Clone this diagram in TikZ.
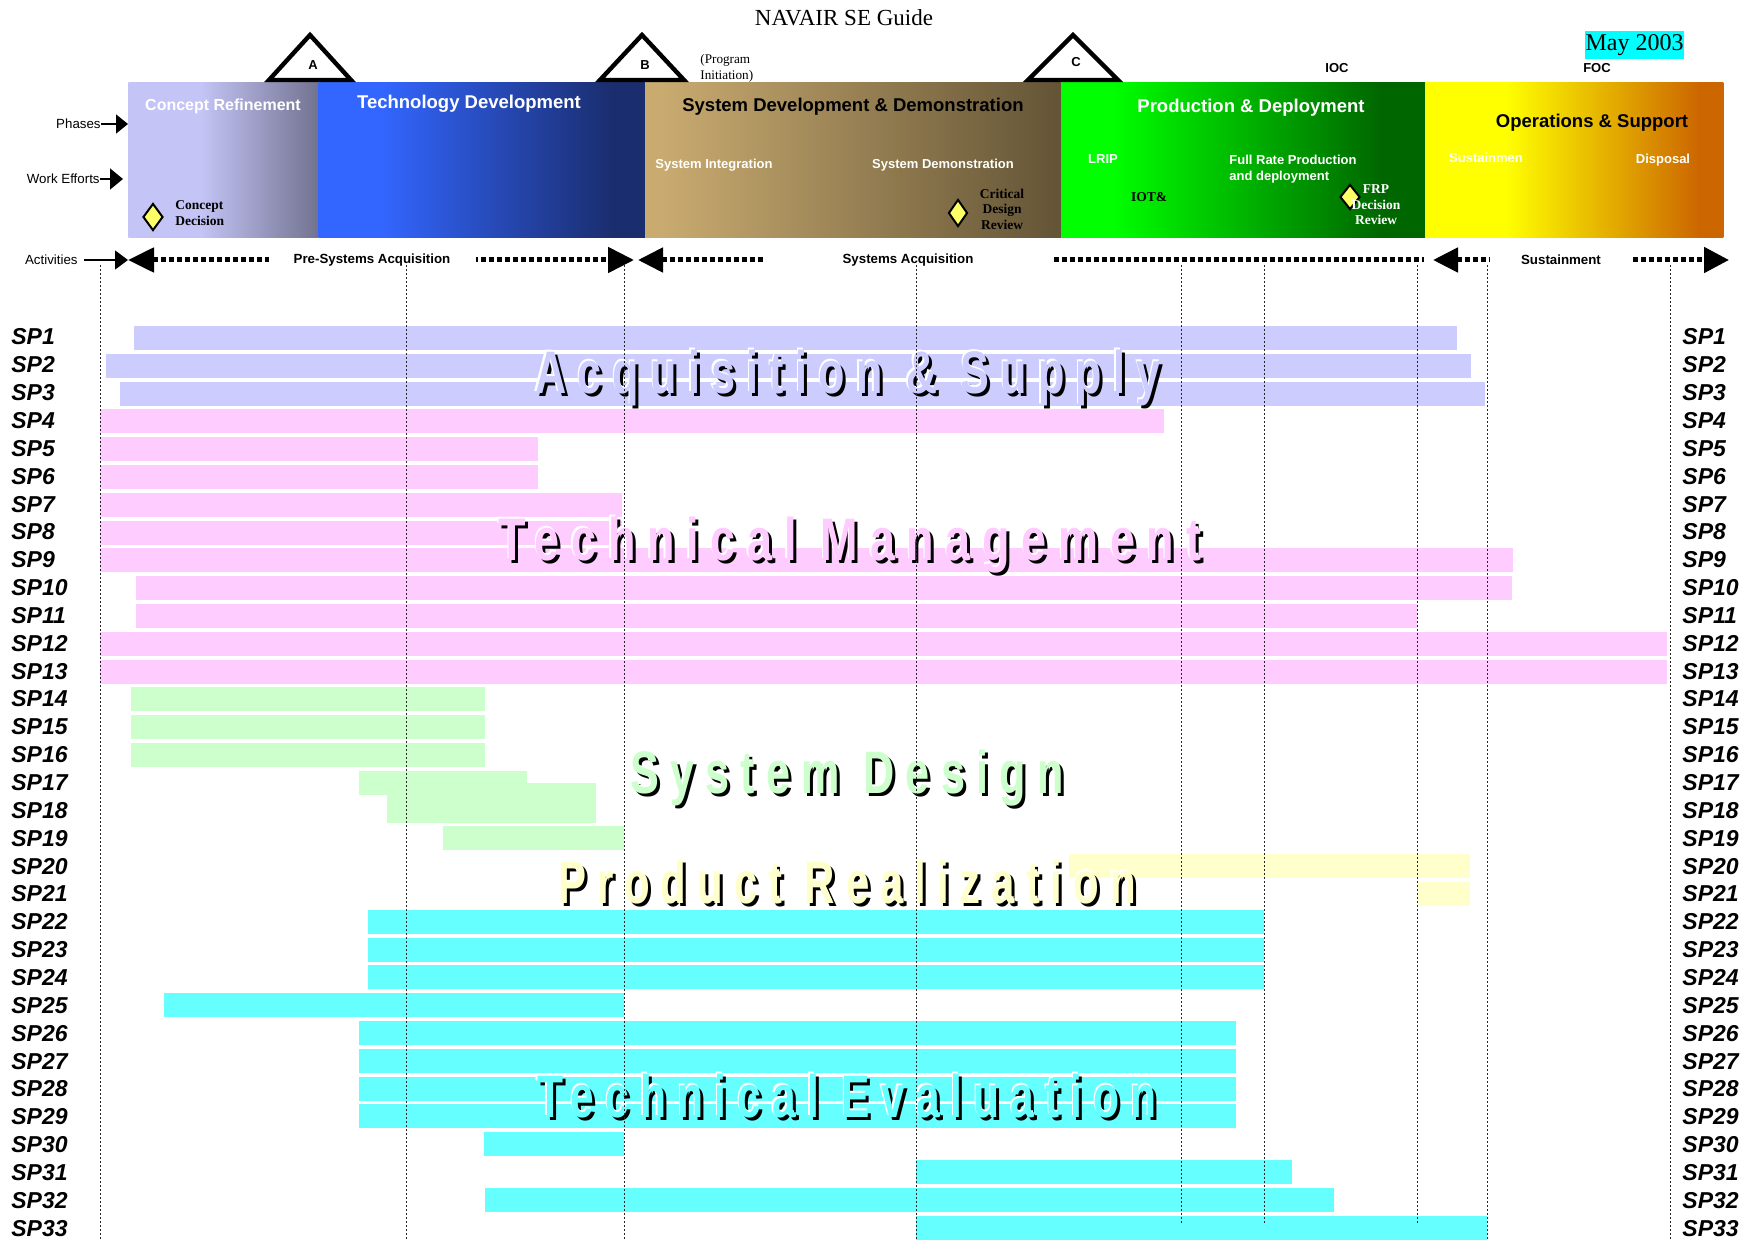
\documentclass[tikz,border=0pt]{standalone}
\usepackage{fontspec}
\setmainfont{Liberation Sans}
\newfontfamily\serifface{Liberation Serif}
\newfontfamily\bandface[LetterSpace=26]{Liberation Sans}
\usepackage{graphicx}
\usetikzlibrary{shapes.geometric, arrows.meta}

\definecolor{acqclr}{HTML}{CCCCFF}
\definecolor{tmclr}{HTML}{FFCCFF}
\definecolor{sdclr}{HTML}{CCFFCC}
\definecolor{prclr}{HTML}{FFFFCC}
\definecolor{teclr}{HTML}{66FFFF}
\definecolor{maycyan}{HTML}{00FFFF}
\definecolor{dmdyellow}{HTML}{FFFF66}
\definecolor{crA}{HTML}{C4C4F6}
\definecolor{crB}{HTML}{727290}
\definecolor{tdA}{HTML}{3366FF}
\definecolor{tdB}{HTML}{1A2D6E}
\definecolor{sdA}{HTML}{C9AB70}
\definecolor{sdB}{HTML}{635436}
\definecolor{pdA}{HTML}{00FF00}
\definecolor{pdB}{HTML}{006600}
\definecolor{osA}{HTML}{FFFF00}
\definecolor{osB}{HTML}{CC6600}

\pgfdeclarehorizontalshading{crshade}{100bp}{color(0bp)=(crA); color(44bp)=(crA); color(75bp)=(crB); color(100bp)=(crB)}
\pgfdeclarehorizontalshading{tdshade}{100bp}{color(0bp)=(tdA); color(34.5bp)=(tdA); color(70bp)=(tdB); color(100bp)=(tdB)}
\pgfdeclarehorizontalshading{sdshade}{100bp}{color(0bp)=(sdA); color(27bp)=(sdA); color(75bp)=(sdB); color(100bp)=(sdB)}
\pgfdeclarehorizontalshading{pdshade}{100bp}{color(0bp)=(pdA); color(32bp)=(pdA); color(69bp)=(pdB); color(100bp)=(pdB)}
\pgfdeclarehorizontalshading{osshade}{100bp}{color(0bp)=(osA); color(38.5bp)=(osA); color(71bp)=(osB); color(100bp)=(osB)}

\tikzstyle{phasebox} = [rectangle, shade, anchor=north west, inner sep=0, minimum height=77.5pt]
\tikzstyle{phasetitle} = [font=\bfseries\fontsize{9.25}{10}\selectfont, anchor=base, inner sep=0]
\tikzstyle{effort} = [font=\bfseries\fontsize{6.5}{7.75}\selectfont, text=white, inner sep=0]
\tikzstyle{note} = [font=\serifface\bfseries\fontsize{6.75}{7.75}\selectfont, inner sep=0, align=center]
\tikzstyle{decision} = [diamond, draw=black, line width=1pt, fill=dmdyellow, inner sep=0, minimum width=10pt, minimum height=13.5pt]
\tikzstyle{milestone} = [draw=black, fill=white, line width=2.2pt, line join=miter]
\tikzstyle{mslabel} = [font=\bfseries\fontsize{6.5}{7}\selectfont, inner sep=0]
\tikzstyle{sidelabel} = [font=\fontsize{6.65}{7}\selectfont, anchor=east, inner sep=0]
\tikzstyle{pointer} = [line width=0.75pt, -{Triangle[length=6pt, width=9.5pt]}]
\tikzstyle{spanline} = [line width=2.5pt, dash pattern=on 2.5pt off 1.5pt]
\tikzstyle{spanlabel} = [font=\bfseries\fontsize{6.65}{7}\selectfont, fill=white, inner sep=0, minimum height=8pt]
\tikzstyle{splabel} = [font=\bfseries\itshape\fontsize{11.5}{12}\selectfont, anchor=west, inner sep=0]
\tikzstyle{gridline} = [line width=0.5pt, dash pattern=on 1pt off 1pt, black!85]
\tikzstyle{bandtext} = [font=\bandface\bfseries\fontsize{30}{30}\selectfont, anchor=base, inner sep=0]

% three layers: shadow, white edge, colour
\newcommand{\bandlabel}[6]{%
  \node[bandtext, text=black] (#1sh) at (#2+3,#3+3) {\scalebox{#6}[1]{#5}};
  \node[bandtext, text=white] (#1hl) at (#2-1.5,#3-1.5) {\scalebox{#6}[1]{#5}};
  \node[bandtext, text=#4] (#1) at (#2,#3) {\scalebox{#6}[1]{#5}};
}

\begin{document}
\begin{tikzpicture}[x={(0.5pt,0pt)}, y={(0pt,-0.5pt)}]
\useasboundingbox (0,0) rectangle (1756,1241);

\node[font=\serifface\fontsize{11.5}{12}\selectfont] (title) at (844,18) {NAVAIR SE Guide};
\node[fill=maycyan, font=\serifface\fontsize{12}{12}\selectfont, minimum width=49.5pt, minimum height=14pt, inner sep=0] (date) at (1634.5,45) {May 2003};

% phases
\node[phasebox, shading=crshade, minimum width=95pt] (cr) at (128,82) {};
\node[phasebox, shading=tdshade, minimum width=163.5pt] (td) at (318,82) {};
\node[phasebox, shading=sdshade, minimum width=208pt] (sdd) at (645,82) {};
\node[phasebox, shading=pdshade, minimum width=182pt] (pd) at (1061,82) {};
\node[phasebox, shading=osshade, minimum width=149pt] (os) at (1425,82) {};

\node[phasetitle, font=\bfseries\fontsize{8}{9}\selectfont, text=white] (crt) at (223,111) {Concept Refinement};
\node[phasetitle, text=white] (tdt) at (469,109) {Technology Development};
\node[phasetitle] (sddt) at (853,112) {System Development \& Demonstration};
\node[phasetitle, text=white] (pdt) at (1251,113) {Production \& Deployment};
\node[phasetitle] (ost) at (1592,128) {Operations \& Support};

\node[effort, anchor=base] (sint) at (714,169) {System Integration};
\node[effort, anchor=base] (sdem) at (943,169) {System Demonstration};
\node[effort, anchor=base] (lrip) at (1103,164) {LRIP};
\node[effort, anchor=west, align=left] (frp) at (1229,169) {Full Rate Production\\and deployment};
\node[effort, anchor=base] (sust) at (1486,163) {Sustainmen};
\node[effort, anchor=base] (disp) at (1663,164) {Disposal};

\node[decision] (cd) at (153,217) {};
\node[note, align=left, anchor=west] (cdn) at (175,213) {Concept\\Decision};
\node[decision, minimum width=9.5pt] (cdr) at (958,213) {};
\node[note] (cdrn) at (1002,209) {Critical\\Design\\Review};
\node[note] (iot) at (1149,197) {IOT\&};
\node[decision, minimum height=12.5pt] (frpd) at (1350,197) {};
\node[note, text=white] (frpn) at (1376,205) {FRP\\Decision\\Review};

% milestones
\foreach \x/\w/\l/\ly in {310/41/A/65, 642/42/B/65, 1073/45/C/62} {
  \filldraw[milestone] (\x,35) -- (\x+\w,80) -- (\x-\w,80) -- cycle;
  \node[mslabel] (ms\l) at (\x+3,\ly) {\l};
}
\node[font=\serifface\fontsize{6.6}{8}\selectfont, align=left, anchor=west, inner sep=0] (progini) at (700,68) {(Program\\Initiation)};
\node[mslabel] (ioc) at (1337,68) {IOC};
\node[mslabel] (foc) at (1597,68) {FOC};

% left side
\node[sidelabel] (phases) at (101,124) {Phases};
\node[sidelabel] (we) at (100,179) {Work Efforts};
\node[sidelabel] (acts) at (78,260) {Activities};
\coordinate (wetip) at (123,179);
\coordinate (acttip) at (128,260);
\draw[pointer] (phases.east) -- (phases -| cr.west);
\draw[pointer, -{Triangle[length=6.5pt, width=10.5pt]}] (we.east) -- (wetip);
\draw[pointer, shorten <=3pt, -{Triangle[length=6.5pt, width=9.5pt]}] (acts.east) -- (acttip);

% activities
\coordinate (prel) at (128,260);
\coordinate (prer) at (634,260);
\coordinate (sysl) at (638,260);
\coordinate (sysr) at (1424,260);
\coordinate (susl) at (1433,260);
\coordinate (susr) at (1729,260);
\draw[spanline, {Triangle[length=13pt, width=12pt]}-{Triangle[length=13pt, width=12.5pt]}] (prel) -- (prer);
\draw[spanline, {Triangle[length=12.5pt, width=12pt]}-] (sysl) -- (sysr);
\draw[spanline, {Triangle[length=12.5pt, width=12pt]}-{Triangle[length=12.5pt, width=12.5pt]}] (susl) -- (susr);
\node[spanlabel, minimum width=103.5pt] (preacq) at (372,260) {Pre-Systems Acquisition};
\node[spanlabel, minimum width=145.5pt] (sysacq) at (908,260) {Systems Acquisition};
\node[spanlabel, minimum width=71.5pt] (sustain) at (1561,260) {Sustainment};

% bars
\foreach \r/\a/\b/\c in {1/134/1457/acqclr, 2/106/1471/acqclr, 3/120/1485/acqclr,
  4/100/1164/tmclr, 5/100/538/tmclr, 6/100/538/tmclr, 7/100/622/tmclr, 8/100/622/tmclr,
  9/100/1513/tmclr, 10/136/1512/tmclr, 11/136/1417/tmclr, 12/100/1667/tmclr, 13/100/1667/tmclr,
  14/131/485/sdclr, 15/131/485/sdclr, 16/131/485/sdclr, 17/359/527/sdclr, 18/387/596/sdclr, 19/443/624/sdclr,
  20/1069/1470/prclr, 21/1417/1470/prclr,
  22/368/1264/teclr, 23/368/1264/teclr, 24/368/1264/teclr, 25/164/624/teclr,
  26/359/1236/teclr, 27/359/1236/teclr, 28/359/1236/teclr, 29/359/1236/teclr,
  30/484/624/teclr, 31/916/1292/teclr, 32/485/1334/teclr, 33/916/1487/teclr}
  \fill[\c] (\a,{326+(\r-1)*27.8}) rectangle (\b,{350+(\r-1)*27.8});
\fill[sdclr] (387,783) rectangle (596,822);

\foreach \r in {1,...,33} {
  \node[splabel] (spl\r) at (11,{337+(\r-1)*27.85}) {SP\r};
  \node[splabel] (spr\r) at (1682,{337+(\r-1)*27.85}) {SP\r};
}

\bandlabel{acqtxt}{848}{393}{acqclr}{Acquisition \& Supply}{0.72}
\bandlabel{tmtxt}{850}{560}{tmclr}{Technical Management}{0.75}
\bandlabel{sdtxt}{847}{793}{sdclr}{System Design}{0.72}
\bandlabel{prtxt}{847}{903}{prclr}{Product Realization}{0.7}
\bandlabel{tetxt}{847}{1117}{teclr}{Technical Evaluation}{0.71}

% grid
\foreach \x in {100,406,624,916,1487,1670}
  \draw[gridline] (\x,265) -- (\x,1241);
\foreach \x in {1181,1264,1417}
  \draw[gridline] (\x,265) -- (\x,1225);

\end{tikzpicture}
\end{document}
